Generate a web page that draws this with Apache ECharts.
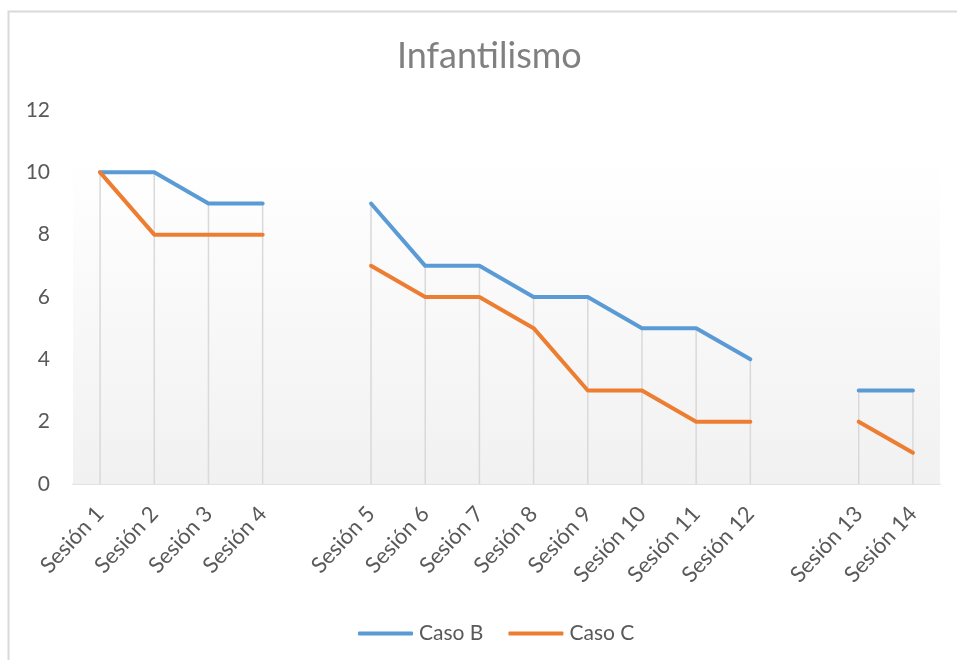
<!DOCTYPE html>
<html>
<head>
<meta charset="utf-8">
<script src="https://cdn.jsdelivr.net/npm/echarts@6/dist/echarts.min.js"></script>
<style>
  html, body { margin: 0; padding: 0; background: #fff; }
  #main { width: 957px; height: 660px; }
</style>
</head>
<body>
<div id="main"></div>
<script>
// categories, empty strings are the gaps between blocks of sessions
const sesiones = ['Sesión 1', 'Sesión 2', 'Sesión 3', 'Sesión 4', '',
  'Sesión 5', 'Sesión 6', 'Sesión 7', 'Sesión 8', 'Sesión 9', 'Sesión 10', 'Sesión 11', 'Sesión 12', '',
  'Sesión 13', 'Sesión 14'];
const casoB = [10, 10, 9, 9, null, 9, 7, 7, 6, 6, 5, 5, 4, null, 3, 3];
const casoC = [10, 8, 8, 8, null, 7, 6, 6, 5, 3, 3, 2, 2, null, 2, 1];
const yTicks = [0, 2, 4, 6, 8, 10, 12];

// drop lines go from the higher point down to the axis
const dropLines = casoB.map((b, i) => (b == null && casoC[i] == null) ? null : Math.max(b || 0, casoC[i] || 0));

const FONT = 'Lato';
const GRIS = '#595959';

var myChart = echarts.init(document.getElementById('main'));

myChart.setOption({
  backgroundColor: '#fff',
  textStyle: { fontFamily: FONT },
  animation: false,
  title: {
    text: 'Infantilismo',
    left: 392,
    top: 33,
    textStyle: { fontSize: 36, fontWeight: 'normal', color: '#808080', fontFamily: FONT }
  },
  graphic: [{
    type: 'rect',
    shape: { x: 8.5, y: 11.5, width: 1000, height: 700 },
    style: { fill: 'none', stroke: '#d9d9d9', lineWidth: 2 },
    silent: true
  }],
  legend: {
    data: ['Caso B', 'Caso C'],
    left: 353,
    top: 618,
    icon: 'roundRect',
    itemWidth: 55,
    itemHeight: 4,
    itemGap: 25,
    textStyle: { fontSize: 21, color: GRIS, fontFamily: FONT, padding: [0, 0, 0, 1] }
  },
  grid: { left: 73, right: 17, top: 110, bottom: 176 },
  xAxis: {
    type: 'category',
    data: sesiones,
    axisLine: { lineStyle: { color: '#d9d9d9', width: 1.5 } },
    axisTick: { show: false },
    axisLabel: { rotate: 47, fontSize: 22, color: GRIS, margin: 26, interval: 0, fontFamily: FONT }
  },
  yAxis: {
    type: 'value',
    min: yTicks[0],
    max: yTicks[yTicks.length - 1],
    interval: 2,
    axisLine: { show: false },
    axisTick: { show: false },
    splitLine: { show: false },
    axisLabel: { fontSize: 21, color: GRIS, margin: 23, fontFamily: FONT }
  },
  series: [
    {
      name: 'drop',
      type: 'bar',
      data: dropLines,
      barWidth: 1.5,
      itemStyle: { color: '#d9d9d9' },
      silent: true,
      z: 1,
      markArea: {
        silent: true,
        itemStyle: {
          color: new echarts.graphic.LinearGradient(0, 0, 0, 1, [
            { offset: 0, color: '#ffffff' },
            { offset: 1, color: '#f1f1f1' }
          ])
        },
        data: [[{ yAxis: 0 }, { yAxis: 10.4 }]]
      }
    },
    {
      name: 'Caso B',
      type: 'line',
      data: casoB,
      symbol: 'none',
      connectNulls: false,
      lineStyle: { color: '#5B9BD5', width: 4, cap: 'round', join: 'round' },
      itemStyle: { color: '#5B9BD5' },
      z: 3
    },
    {
      name: 'Caso C',
      type: 'line',
      data: casoC,
      symbol: 'none',
      connectNulls: false,
      lineStyle: { color: '#ED7D31', width: 4, cap: 'round', join: 'round' },
      itemStyle: { color: '#ED7D31' },
      z: 4
    }
  ]
});
</script>
</body>
</html>
